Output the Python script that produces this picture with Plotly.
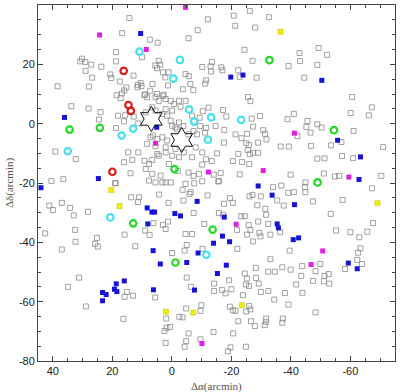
import plotly.graph_objects as go

# ---- data (Δα, Δδ in arcmin) ----
gray_ra = [
 14.3,-12.1,16.7,-8.7,7.4,4.8,-5.6,10.0,18.8,18.8,30.2,30.8,29.1,27.1,23.7,29.0,26.8,27.9,38.4,
 20.7,20.4,17.5,12.9,15.3,16.0,16.8,18.6,17.2,11.4,10.5,10.2,11.6,6.5,9.0,7.3,
 5.6,4.4,3.9,5.0,3.0,2.2,1.1,1.3,5.0,2.8,-3.7,-4.6,-5.7,-6.2,-7.2,
 -10.2,-13.5,-13.0,-13.2,-11.5,-11.2,
 -26.2,-20.8,-32.6,-21.3,-28.0,-24.4,-27.1,-42.9,-49.3,-52.2,-43.1,-39.2,-48.9,-16.6,-17.0,-22.3,-22.8,-28.5,-44.5,
 33.8,28.0,24.0,24.5,18.8,15.7,18.1,16.1,11.3,12.8,39.2,32.3,40.5,36.5,14.7,11.3,16.1,13.3,13.9,19.1,
 9.2,8.3,5.5,2.9,2.1,4.4,0.4,-0.7,-2.4,-2.9,-4.6,8.8,6.6,5.5,
 3.2,1.6,-0.1,2.1,0.4,-0.1,-1.2,-2.4,-6.8,
 7.2,6.4,4.9,3.2,1.6,2.1,5.5,8.3,
 9.2,7.7,6.6,4.9,4.4,2.1,-0.1,1.0,-1.2,-2.4,-4.0,-6.8,-8.0,
 8.8,6.6,7.7,5.5,3.8,3.2,2.1,0.4,-4.6,-6.3,
 -12.3,-10.4,-9.3,-9.5,-11.5,-11.1,-7.3,-8.4,-5.6,-3.9,-1.7,
 -10.2,-11.5,-10.2,-13.4,-9.1,-10.2,-14.1,-16.4,-15.6,-7.3,-5.6,-2.0,
 -25.6,-26.4,-60.6,-67.2,-66.2,-60.1,-17.2,-18.3,-14.7,-26.8,-27.3,-29.6,-38.9,-41.0,-45.6,-45.2,-46.6,
 -48.9,-50.3,-61.1,-57.0,-53.5,-42.2,-46.8,-36.6,-39.3,-71.0,-57.2,-60.9,-48.9,-51.3,-54.8,-56.2,-51.1,
 -70.4,-44.9,-39.9,-22.8,-17.6,-21.4,-23.4,-25.3,-25.0,-30.7,-31.3,-31.8,-29.0,-25.9,-25.5,-26.2,-27.3,
 -29.0,-22.3,-20.5,-23.6,-26.0,-15.2,-17.5,-15.8,
 18.9,41.2,40.0,37.0,34.2,33.0,28.2,42.6,32.5,32.4,37.0,25.2,25.8,24.9,15.9,12.3,13.7,11.0,11.4,4.3,
 6.2,9.0,7.5,3.0,2.1,1.3,1.1,-3.6,-5.9,-7.5,-12.0,-7.3,-3.9,-10.9,-4.6,-6.8,-5.0,-4.3,-10.3,-0.1,
 -34.0,-36.8,-44.7,-67.3,-19.5,-20.5,-17.5,-26.1,-27.1,-29.9,-35.4,-37.6,-39.1,-41.0,-44.9,-47.4,-57.4,
 -28.7,-31.7,-31.4,-53.4,-67.6,-15.8,-17.2,-23.3,-24.5,-25.8,-21.9,-26.4,-29.0,-32.4,-36.4,-33.1,-29.4,
 -29.8,-25.3,-27.3,-22.0,-55.2,-60.0,-63.0,-65.7,-39.6,-63.4,-62.6,-33.1,-49.9,-62.3,-63.9,-43.8,-37.1,-28.2,
 34.9,31.2,28.9,15.1,15.9,13.1,16.3,5.6,1.9,2.5,1.8,0.6,2.1,-2.5,-3.6,-4.8,-5.0,-6.4,-9.9,-9.6,
 -5.6,-4.8,-4.3,-9.6,-14.0,-14.2,-14.2,
 -24.5,-25.3,-24.9,-25.9,-19.2,-28.3,-29.2,-32.4,-34.6,-39.9,-43.5,-48.3,-51.3,-52.7,-52.9,-51.1,-41.8,
 -47.5,-58.2,-16.9,-18.0,-20.0,-23.9,-29.9,-32.4,-38.0,-43.9,-34.4,-39.2,-26.0,-26.4,-25.0,-19.5,-20.5,
 -21.4,-48.3,-31.7,-31.6,-37.3,-37.1,-22.3,-26.6,-27.9,-31.2,-20.6,-19.7,-18.8,-24.9,
]
gray_dec = [
 35.6,35.2,30.5,31.5,28.3,27.3,28.8,22.4,24.1,21.0,21.9,21.0,20.8,19.9,19.2,17.8,15.5,12.5,12.6,
 16.6,15.4,14.2,16.2,12.2,11.2,10.2,9.6,8.6,13.1,13.7,12.7,12.3,13.4,9.8,11.1,
 19.6,21.2,19.9,18.7,17.3,15.6,17.3,12.9,10.0,9.8,11.6,16.7,16.0,13.4,11.3,
 19.1,20.8,19.3,17.6,14.6,13.5,
 38.0,36.4,35.9,33.0,32.4,24.9,21.2,23.8,25.5,23.2,21.1,19.4,19.8,19.0,18.0,18.0,15.8,15.5,15.5,
 5.9,5.1,3.9,1.4,-1.5,2.8,2.7,0.8,0.1,2.4,-9.4,-11.9,-19.3,-18.7,-9.7,-9.7,-13.0,-12.2,-16.7,-20.1,
 9.7,8.9,8.9,9.4,8.3,7.7,7.7,6.6,7.7,5.7,7.7,3.8,5.5,4.4,
 3.3,2.7,4.4,4.9,1.0,-0.7,-1.2,0.4,2.7,
 -4.6,-4.0,-5.2,-4.6,-5.7,-8.0,-7.6,-6.8,
 -12.5,-13.6,-12.2,-10.2,-10.8,-9.7,-10.8,-13.6,-8.5,-11.3,-9.7,-11.3,-8.0,
 -15.3,-16.9,-19.2,-19.8,-17.5,-19.8,-19.8,-19.8,-20.3,-23.1,
 5.4,4.2,2.0,-0.8,-1.4,-3.0,-2.5,-3.6,-3.6,-0.8,-1.9,
 -9.7,-12.0,-13.8,-12.6,-16.9,-19.4,-17.2,-16.6,-19.5,-17.6,-16.5,-16.0,
 9.0,7.6,9.0,5.5,2.8,3.6,4.6,2.4,-0.8,1.7,-1.0,2.6,1.5,3.3,0.9,-1.1,-3.0,
 -0.2,-1.3,-2.5,-6.2,-7.3,-4.2,-7.5,-7.7,-7.7,-7.9,-10.9,-11.6,-11.8,-11.7,-17.8,-17.6,-16.8,
 -17.6,-19.8,-17.2,-17.1,-2.1,-3.6,-4.9,-3.4,-6.6,-2.2,-3.4,-5.3,-6.4,-7.2,-8.9,-10.3,-9.8,
 -9.8,-10.2,-12.6,-12.9,-13.6,-10.0,-6.4,-19.3,
 -20.0,-27.6,-29.1,-26.7,-28.4,-30.9,-29.7,-37.0,-35.8,-39.8,-42.4,-38.5,-40.5,-41.4,-37.4,-41.3,-24.8,-24.8,-26.4,-23.9,
 -33.5,-36.0,-37.5,-34.1,-35.5,-33.0,-26.7,-22.3,-23.7,-20.1,-24.2,-30.1,-25.9,-33.8,-37.2,-37.2,-40.9,-42.8,-42.2,-43.6,
 -21.4,-20.9,-21.4,-21.8,-25.1,-26.7,-27.0,-24.5,-24.0,-24.5,-25.9,-27.6,-23.3,-23.1,-23.1,-26.2,-25.7,
 -27.5,-30.7,-28.7,-30.4,-33.5,-30.1,-30.7,-31.2,-31.2,-34.2,-35.8,-35.8,-33.0,-33.8,-36.6,-37.4,-36.8,
 -38.0,-37.4,-39.7,-42.2,-36.0,-36.6,-38.3,-36.4,-42.8,-42.0,-43.5,-45.7,-47.3,-45.9,-47.3,-48.0,-48.4,-48.6,
 -55.0,-51.9,-61.6,-56.7,-58.4,-58.0,-65.8,-58.6,-65.7,-69.9,-68.8,-68.5,-73.9,-65.1,-65.3,-62.3,-51.9,-55.0,-61.2,-63.1,
 -70.7,-73.3,-75.2,-72.7,-70.2,-53.9,-56.4,
 -50.5,-52.2,-54.2,-54.7,-52.8,-52.0,-53.9,-49.9,-49.9,-49.2,-51.3,-49.7,-51.3,-50.7,-53.9,-53.1,-54.2,
 -53.0,-49.0,-56.1,-57.2,-55.8,-57.8,-56.7,-56.4,-57.1,-57.0,-59.3,-61.0,-61.5,-62.6,-63.3,-61.7,-62.9,
 -63.1,-63.6,-65.7,-66.8,-65.7,-67.1,-66.6,-66.6,-68.2,-67.9,-70.7,-75.4,-76.7,-75.2,
]

blue_ra = [10.5,-19.8,-23.9,-50.4,36.1,5.1,24.7,44.0,-55.7,-63.4,-62.9,-29.0,-33.7,8.3,6.7,5.8,8.1,
           -1.0,-2.9,-8.5,-14.0,6.3,-8.8,3.9,-5.0,-41.2,-17.6,-35.4,-35.8,-17.0,-19.4,-40.8,-42.6,
           -18.3,-59.3,-62.3,23.3,22.1,23.3,18.7,19.3,18.5,16.0,6.2,-7.6,-15.3]
blue_dec = [30.4,15.7,16.4,14.6,2.1,-1.2,-18.5,-21.6,-5.6,-11.2,-18.8,-21.0,-24.1,-28.4,-29.8,-29.8,-33.8,
            -30.3,-31.1,-26.2,-40.3,-42.8,-43.6,-47.3,-46.8,-27.3,-31.5,-33.8,-35.1,-37.9,-39.8,-39.1,-38.5,
            -47.7,-47.0,-48.9,-56.9,-57.6,-59.7,-54.0,-55.8,-56.6,-53.0,-56.0,-56.1,-50.5]

magenta_ra = [-4.6,24.3,8.6,5.5,-12.3,-41.2,-30.7,-59.5,-21.6,-50.7,-46.8,-10.1]
magenta_dec = [39.2,29.9,25.0,-6.6,-16.3,-3.2,-15.8,-18.0,-33.9,-42.9,-47.5,-74.1]

yellow_ra = [-36.5,20.4,17.6,-69.1,2.0,-7.2,-23.5]
yellow_dec = [31.0,-22.4,-27.8,-26.8,-63.4,-63.7,-61.2]

red_ra = [16.2,14.6,13.8,20.0]
red_dec = [17.8,6.3,4.3,-16.2]

cyan_ra = [10.9,-2.7,-0.5,-5.8,-7.5,-13.2,-12.1,-23.3,16.9,13.0,35.0,20.7,-11.6]
cyan_dec = [24.3,21.5,15.2,4.8,0.7,2.1,-5.4,1.3,-4.0,-1.7,-9.3,-31.6,-44.2]

green_ra = [-32.8,34.4,24.2,-54.5,-0.9,-49.0,13.0,-13.7,-1.2]
green_dec = [21.4,-2.0,-1.4,-2.2,-15.3,-19.8,-33.6,-35.7,-46.8]

star_ra = [6.9,-3.3]
star_dec = [1.6,-5.5]

x_ticks = [40, 20, 0, -20, -40, -60]
y_ticks = [40, 20, 0, -20, -40, -60, -80]

fig = go.Figure()
fig.add_trace(go.Scatter(x=gray_ra, y=gray_dec, mode="markers",
    marker=dict(symbol="square-open", size=5, color="#8a8a8a", line=dict(width=0.8, color="#8a8a8a"))))
fig.add_trace(go.Scatter(x=blue_ra, y=blue_dec, mode="markers",
    marker=dict(symbol="square", size=5, color="#1414d2", line=dict(width=0))))
fig.add_trace(go.Scatter(x=magenta_ra, y=magenta_dec, mode="markers",
    marker=dict(symbol="square", size=5, color="#e020e0", line=dict(width=0))))
fig.add_trace(go.Scatter(x=yellow_ra, y=yellow_dec, mode="markers",
    marker=dict(symbol="square", size=5, color="#eeee10", line=dict(width=0.6, color="#c8c800"))))
for xs, ys, col in [(red_ra, red_dec, "#e01818"), (cyan_ra, cyan_dec, "#48e0ee"), (green_ra, green_dec, "#28d828")]:
    fig.add_trace(go.Scatter(x=xs, y=ys, mode="markers",
        marker=dict(symbol="circle-open", size=6.5, color=col, line=dict(width=2.2, color=col))))
fig.add_trace(go.Scatter(x=star_ra, y=star_dec, mode="markers",
    marker=dict(symbol="hexagram-open", size=19, color="#111", line=dict(width=1, color="#111"))))

axis_common = dict(showgrid=False, zeroline=False, showline=True, linecolor="#444", linewidth=1,
                   mirror="ticks", ticks="inside", ticklen=5, tickcolor="#444", tickwidth=1,
                   automargin=False,
                   minor=dict(dtick=5, ticks="inside", ticklen=3, tickcolor="#444", tickwidth=1),
                   tickfont=dict(family="Liberation Sans, Arial, sans-serif", size=11, color="#222"))
fig.update_xaxes(range=[45, -75], tickvals=x_ticks, ticktext=[str(v) for v in x_ticks], **axis_common)
fig.update_yaxes(range=[-80, 40], tickvals=y_ticks, ticktext=[str(v) for v in y_ticks], **axis_common)

title_font = dict(family="Liberation Serif, Times New Roman, serif", size=11, color="#555")
fig.add_annotation(text="Δα(arcmin)", xref="paper", yref="paper", x=0.5, y=0,
                   xanchor="center", yanchor="top", yshift=-17, showarrow=False, font=title_font)
fig.add_annotation(text="Δδ(arcmin)", xref="paper", yref="paper", x=0, y=0.5,
                   xanchor="center", yanchor="middle", xshift=-29, textangle=-90,
                   showarrow=False, font=title_font)
fig.update_layout(width=400, height=392, margin=dict(l=38, r=5, t=5, b=31),
                  paper_bgcolor="white", plot_bgcolor="white", showlegend=False)
fig.write_html("out.html", config={"displayModeBar": False},
               post_script="document.body.style.margin='0';document.body.style.overflow='hidden';")
